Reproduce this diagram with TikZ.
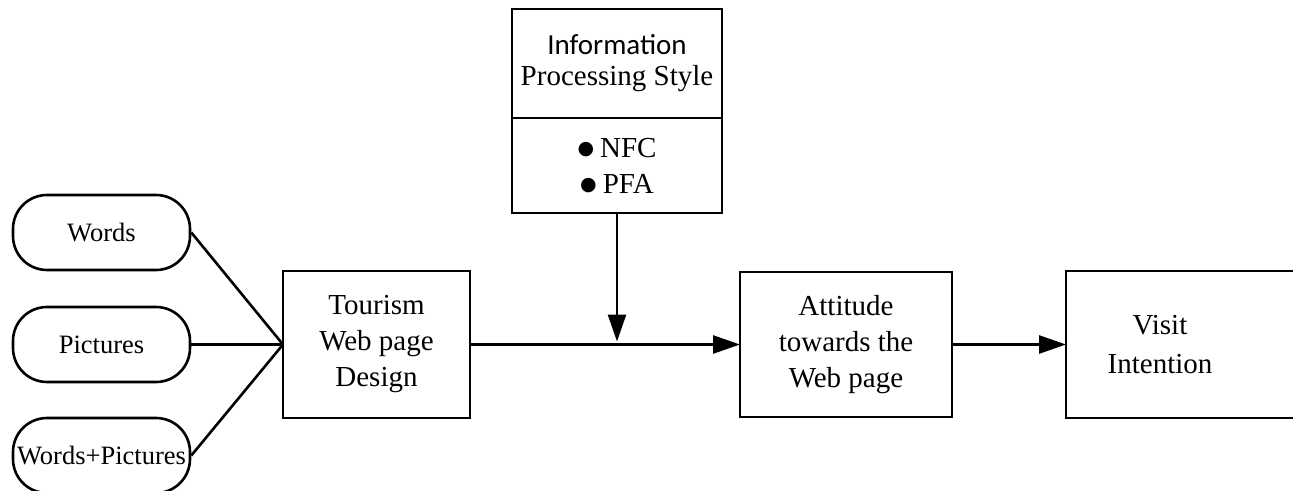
\documentclass[tikz,border=0pt]{standalone}
\usepackage{fontspec}
\setmainfont{Liberation Serif}
\newfontfamily\calibrilike{Carlito}
\newfontfamily\dejavu{DejaVu Sans}
\usetikzlibrary{arrows.meta}
\newcommand{\bigbullet}{\raisebox{2.5pt}{\fontsize{19}{19}\dejavu ●}\hspace{6pt}}
\begin{document}
\begin{tikzpicture}[x=1pt,y=-1pt,
  lw/.style={line width=2.6pt},
  pill/.style={lw, draw, rectangle, rounded corners=34pt, minimum width=177pt,
    minimum height=75pt, inner sep=0pt, font=\fontsize{26.5}{30}\selectfont},
  box/.style={lw, draw, rectangle, inner sep=0pt, outer sep=0pt, align=center,
    font=\fontsize{29}{36}\selectfont},
  link/.style={lw},
  arr/.style={lw, -{Triangle[length=27pt,width=18pt]}}]
\useasboundingbox (0,0) rectangle (1293,490);
\clip (0,0) rectangle (1293,490);

% presentation formats
\node[pill] (words) at (101.5,232.5) {Words};
\node[pill] (pics)  at (101.5,344.5) {Pictures};
\node[pill] (wp)    at (101.5,455.5) {Words+Pictures};

% main chain
\node[box, minimum width=187pt, minimum height=147pt] (design) at (376.5,344.5)
  {Tourism\\Web page\\Design};
\node[box, minimum width=212pt, minimum height=145pt] (attitude) at (846,344.5)
  {Attitude\\towards the\\Web page};
\node[box, minimum width=240pt, minimum height=147pt, anchor=west] (visit) at (1066,344.5) {};
\node[align=center, inner sep=0pt, font=\fontsize{29}{39}\selectfont] (visittext) at (1160,345)
  {Visit\\Intention};

% moderator box
\node[box, minimum width=210pt, minimum height=109pt, font=\fontsize{29}{31}\selectfont]
  (ipstyle) at (617,63.5)
  {{\calibrilike Information}\\Processing Style};
\node[box, minimum width=210pt, minimum height=95pt, anchor=north] (moderators) at (ipstyle.south)
  {\bigbullet NFC\\\bigbullet PFA};

% connectors
\draw[link] (words.east) -- (design.west);
\draw[link] (pics.east) -- (design.west);
\draw[link] (wp.east) -- (design.west);
\draw[arr] (design.east) -- (attitude.west);
\coordinate (join) at (moderators.south |- design.east);
\draw[arr, shorten >=3pt] (moderators.south) -- (join);
\draw[arr] (attitude.east) -- (visit.west);
\end{tikzpicture}
\end{document}
